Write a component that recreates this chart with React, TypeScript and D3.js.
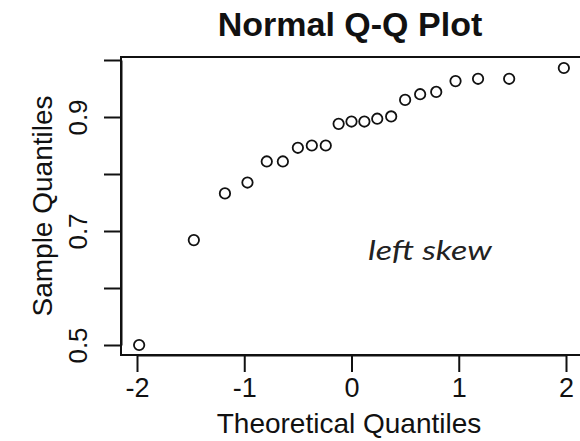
import { useRef, useEffect } from "react";
import { select, scaleLinear, axisBottom, axisLeft } from "d3";

// theoretical normal quantiles (x) and sample quantiles (y)
const theoretical = [
  -1.98, -1.47, -1.18, -0.97, -0.79, -0.64, -0.5, -0.37, -0.24, -0.12, 0,
  0.12, 0.24, 0.37, 0.5, 0.64, 0.79, 0.97, 1.18, 1.47, 1.98,
];
const sample = [
  0.5, 0.684, 0.766, 0.785, 0.822, 0.822, 0.846, 0.85, 0.85, 0.888, 0.892,
  0.892, 0.897, 0.901, 0.93, 0.94, 0.944, 0.963, 0.967, 0.967, 0.986,
];
const xTicks = [-2, -1, 0, 1, 2];
const xTickLabels = ["-2", "-1", "0", "1", "2"];
const yTicks = [0.5, 0.6, 0.7, 0.8, 0.9, 1.0];
const yTickLabels = ["0.5", "", "0.7", "", "0.9", ""];

const title = "Normal Q-Q Plot";
const xTitle = "Theoretical Quantiles";
const yTitle = "Sample Quantiles";
const note = "left skew";

const W = 580;
const H = 441;
const FONT = "'Liberation Sans', Arial, sans-serif";

export default function App() {
  const svgRef = useRef<SVGSVGElement>(null);

  useEffect(() => {
    const svg = select(svgRef.current);

    // scales (plot box is wider than the tick range, like R's 4% padding)
    const x = scaleLinear().domain([-2, 2]).range([137, 566]);
    const y = scaleLinear().domain([0.5, 1.0]).range([345, 60]);
    const box = { left: 121, right: 600, top: 57, bottom: 355 };

    // box
    svg
      .select(".box")
      .attr("x", box.left)
      .attr("y", box.top)
      .attr("width", box.right - box.left)
      .attr("height", box.bottom - box.top)
      .attr("fill", "none")
      .attr("stroke", "#111")
      .attr("stroke-width", 2);

    //// axes ////
    const xAxis = axisBottom(x)
      .tickValues(xTicks)
      .tickSize(17)
      .tickSizeOuter(0)
      .tickFormat((d, i) => xTickLabels[i]);
    const gx = svg
      .select(".x-axis")
      .attr("transform", `translate(0,${box.bottom})`)
      .call(xAxis as any);
    gx.selectAll("line").attr("stroke", "#111").attr("stroke-width", 2);
    gx.select(".domain").attr("stroke", "#111").attr("stroke-width", 2);
    gx.selectAll("text")
      .attr("y", 42)
      .attr("dy", 0)
      .attr("fill", "#111")
      .style("font-family", FONT)
      .style("font-size", "27px");

    const yAxis = axisLeft(y)
      .tickValues(yTicks)
      .tickSize(17)
      .tickSizeOuter(0)
      .tickFormat((d, i) => yTickLabels[i]);
    const gy = svg
      .select(".y-axis")
      .attr("transform", `translate(${box.left},0)`)
      .call(yAxis as any);
    gy.selectAll("line").attr("stroke", "#111").attr("stroke-width", 2);
    gy.select(".domain").attr("stroke", "#111").attr("stroke-width", 2);
    gy.selectAll("text")
      .attr("transform", "rotate(-90)")
      .attr("x", 0)
      .attr("y", -34)
      .attr("dy", 0)
      .attr("text-anchor", "middle")
      .attr("fill", "#111")
      .style("font-family", FONT)
      .style("font-size", "26px");

    //// points ////
    svg
      .select(".points")
      .selectAll("circle")
      .data(sample)
      .join("circle")
      .attr("cx", (d, i) => x(theoretical[i]))
      .attr("cy", (d) => y(d))
      .attr("r", 5.2)
      .attr("fill", "none")
      .attr("stroke", "#111")
      .attr("stroke-width", 1.8);
  }, []);

  return (
    <svg
      ref={svgRef}
      width={W}
      height={H}
      style={{ position: "absolute", left: 0, top: 0, background: "#fff" }}
    >
      <rect x={0} y={0} width={W} height={H} fill="#fff" />
      <rect className="box" />
      <g className="x-axis" />
      <g className="y-axis" />
      <g className="points" />
      <text
        x={350}
        y={36}
        textAnchor="middle"
        fontFamily={FONT}
        fontWeight="bold"
        fontSize={34}
        fill="#111"
      >
        {title}
      </text>
      <text
        x={349}
        y={433}
        textAnchor="middle"
        fontFamily={FONT}
        fontSize={28}
        fill="#111"
      >
        {xTitle}
      </text>
      <text
        transform="translate(52,206) rotate(-90)"
        textAnchor="middle"
        fontFamily={FONT}
        fontSize={28}
        fill="#111"
      >
        {yTitle}
      </text>
      <text
        x={368}
        y={260}
        fontFamily="Lato, 'Open Sans', sans-serif"
        fontStyle="italic"
        fontSize={27}
        fill="#222"
        textLength={124}
        lengthAdjust="spacingAndGlyphs"
      >
        {note}
      </text>
    </svg>
  );
}
